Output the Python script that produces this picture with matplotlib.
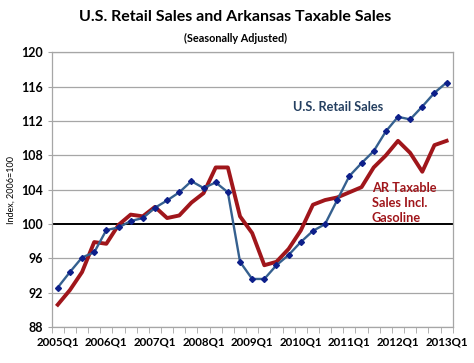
import numpy as np
import matplotlib
matplotlib.use("Agg")
import matplotlib.pyplot as plt

# ---- data ----
quarters = [f"{y}Q{q}" for y in range(2005, 2014) for q in range(1, 5)][:33]
us_retail = [92.6, 94.4, 96.1, 96.7, 99.3, 99.6, 100.35, 100.7, 101.9, 102.75,
             103.7, 105.0, 104.2, 104.85, 103.7, 95.6, 93.6, 93.6, 95.2, 96.4,
             97.9, 99.2, 100.0, 102.8, 105.6, 107.1, 108.5, 110.8, 112.5, 112.2,
             113.7, 115.3, 116.5]
ar_taxable = [90.6, 92.3, 94.4, 97.9, 97.7, 99.9, 101.1, 100.9, 102.0, 100.7,
              101.0, 102.5, 103.6, 106.6, 106.6, 100.9, 98.95, 95.2, 95.6, 97.1,
              99.25, 102.25, 102.8, 103.1, 103.7, 104.3, 106.6, 108.0, 109.7, 108.3,
              106.1, 109.2, 109.7]
label_quarters = quarters[::4]
yticks = [88, 92, 96, 100, 104, 108, 112, 116, 120]

plt.rcParams['font.family'] = ['Lato', 'DejaVu Sans']

fig = plt.figure(figsize=(4.74, 3.63), dpi=100)
ax = fig.add_axes([0.109, 0.0992, 0.846, 0.7562])

x = np.arange(len(quarters))
grid_c = '#A6A6A6'
for v in yticks:
    if v == 100:
        continue
    ax.axhline(v, color=grid_c, lw=0.9, zorder=1)
ax.axhline(100, color='black', lw=1.4, zorder=2)

ax.plot(x, us_retail, color='#35608F', lw=1.7, marker='D', markersize=3.0,
        markerfacecolor='#0D1F8A', markeredgecolor='#0D1F8A', zorder=4)
ax.plot(x, ar_taxable, color='#A0161B', lw=2.8, zorder=3)

ax.set_xlim(-0.5, len(quarters) - 0.5)
ax.set_ylim(88, 120)
ax.set_yticks(yticks)
ax.set_yticklabels([str(v) for v in yticks], fontsize=9, fontweight='bold')
ax.set_xticks(x[::4])
ax.set_xticklabels(label_quarters, fontsize=8.3, fontweight='bold')
ax.set_xticks(np.arange(-0.5, len(quarters), 1), minor=True)
ax.tick_params(axis='x', which='major', length=0, pad=7)
ax.tick_params(axis='x', which='minor', length=4, color=grid_c, direction='out')
ax.tick_params(axis='y', length=3, color=grid_c, direction='out', pad=3)

for s in ['left', 'right', 'top', 'bottom']:
    ax.spines[s].set_color(grid_c)
    ax.spines[s].set_linewidth(0.9)

ax.set_ylabel('Index, 2006=100', fontsize=6.5, labelpad=4)

fig.text(0.496, 0.952, 'U.S. Retail Sales and Arkansas Taxable Sales',
         ha='center', va='center', fontsize=11.5, fontweight='bold')
fig.text(0.496, 0.895, '(Seasonally Adjusted)', ha='center', va='center',
         fontsize=7.8, fontweight='bold')

ax.text(0.713, 0.704, 'U.S. Retail Sales', transform=fig.transFigure,
        ha='center', va='center', fontsize=9.2, fontweight='bold', color='#243F60')
ax.text(0.784, 0.5, 'AR Taxable\nSales Incl.\nGasoline', transform=fig.transFigure,
        ha='left', va='top', fontsize=9.2, fontweight='bold', color='#A0161B',
        linespacing=1.35)

fig.savefig('out.png', dpi=100)
